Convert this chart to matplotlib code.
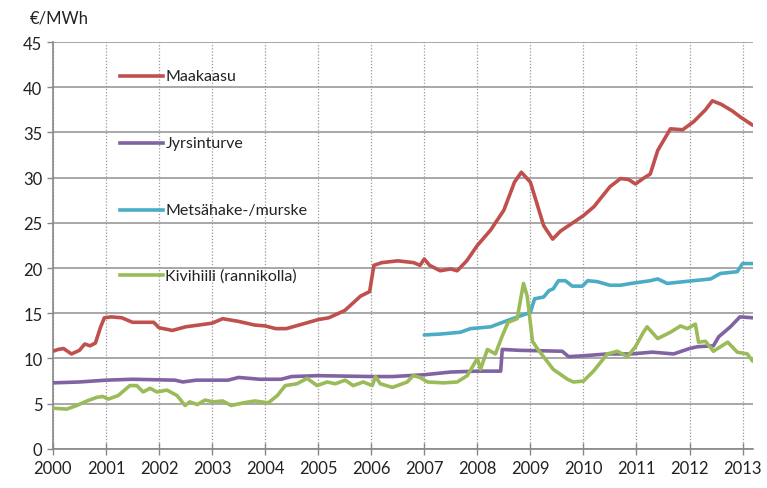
import matplotlib.pyplot as plt

plt.rcParams['font.family'] = ['Lato', 'DejaVu Sans']

# Maakaasu (natural gas)
gas_x = [2000.0, 2000.1, 2000.2, 2000.35, 2000.5, 2000.6, 2000.7, 2000.8, 2000.9, 2000.97,
         2001.1, 2001.3, 2001.5, 2001.7, 2001.9, 2002.0, 2002.25, 2002.5, 2002.75, 2003.0,
         2003.2, 2003.5, 2003.8, 2004.0, 2004.2, 2004.4, 2004.7, 2005.0, 2005.2, 2005.5,
         2005.8, 2005.97, 2006.05, 2006.2, 2006.5, 2006.8, 2006.92, 2007.0, 2007.1, 2007.3,
         2007.5, 2007.62, 2007.8, 2008.0, 2008.25, 2008.5, 2008.7, 2008.83, 2009.0, 2009.25,
         2009.42, 2009.57, 2009.8, 2010.0, 2010.2, 2010.5, 2010.7, 2010.85, 2010.98, 2011.15,
         2011.26, 2011.4, 2011.64, 2011.87, 2012.08, 2012.3, 2012.43, 2012.6, 2012.8, 2012.96,
         2013.19]
gas_y = [10.8, 11.0, 11.1, 10.5, 10.9, 11.6, 11.4, 11.7, 13.5, 14.5,
         14.6, 14.5, 14.0, 14.0, 14.0, 13.4, 13.1, 13.5, 13.7, 13.9,
         14.4, 14.1, 13.7, 13.6, 13.3, 13.3, 13.8, 14.3, 14.5, 15.3,
         16.9, 17.4, 20.3, 20.6, 20.8, 20.6, 20.3, 21.0, 20.3, 19.7,
         19.9, 19.7, 20.8, 22.5, 24.2, 26.4, 29.5, 30.6, 29.5, 24.7,
         23.2, 24.1, 25.0, 25.8, 26.8, 29.0, 29.9, 29.8, 29.3, 30.0,
         30.4, 33.0, 35.4, 35.3, 36.2, 37.5, 38.5, 38.1, 37.4, 36.7,
         35.8]

# Jyrsinturve (milled peat)
peat_x = [2000.0, 2000.5, 2001.0, 2001.5, 2002.3, 2002.45, 2002.7, 2003.3, 2003.5, 2003.9,
          2004.3, 2004.5, 2005.0, 2006.0, 2006.4, 2007.0, 2007.5, 2008.0, 2008.44, 2008.47,
          2008.8, 2009.6, 2009.72, 2010.0, 2010.45, 2010.9, 2011.3, 2011.7, 2012.0, 2012.15,
          2012.45, 2012.55, 2012.77, 2012.95, 2013.19]
peat_y = [7.3, 7.4, 7.6, 7.7, 7.6, 7.4, 7.6, 7.6, 7.9, 7.7,
          7.7, 8.0, 8.1, 8.0, 8.0, 8.2, 8.5, 8.6, 8.6, 11.0,
          10.9, 10.8, 10.2, 10.3, 10.5, 10.5, 10.7, 10.5, 11.1, 11.3,
          11.4, 12.4, 13.5, 14.6, 14.5]

# Metsähake-/murske (forest chips)
chips_x = [2007.0, 2007.3, 2007.68, 2007.87, 2008.25, 2008.57, 2009.0, 2009.08, 2009.25, 2009.35,
           2009.43, 2009.53, 2009.66, 2009.79, 2009.98, 2010.08, 2010.26, 2010.5, 2010.7, 2010.9,
           2011.26, 2011.4, 2011.58, 2011.9, 2012.4, 2012.58, 2012.9, 2013.0, 2013.19]
chips_y = [12.6, 12.7, 12.9, 13.3, 13.5, 14.2, 15.1, 16.6, 16.8, 17.5,
           17.7, 18.6, 18.6, 18.0, 18.0, 18.6, 18.5, 18.1, 18.1, 18.3,
           18.6, 18.8, 18.3, 18.5, 18.8, 19.4, 19.6, 20.5, 20.5]

# Kivihiili (rannikolla) (coal, coastal)
coal_x = [2000.0, 2000.26, 2000.45, 2000.64, 2000.83, 2000.94, 2001.04, 2001.23, 2001.45, 2001.58,
          2001.7, 2001.83, 2001.96, 2002.15, 2002.34, 2002.49, 2002.58, 2002.72, 2002.87, 2003.02,
          2003.2, 2003.36, 2003.6, 2003.8, 2004.06, 2004.23, 2004.38, 2004.6, 2004.79, 2004.98,
          2005.17, 2005.32, 2005.51, 2005.66, 2005.85, 2006.02, 2006.08, 2006.17, 2006.4, 2006.68,
          2006.79, 2006.92, 2007.06, 2007.36, 2007.62, 2007.81, 2008.0, 2008.06, 2008.19, 2008.34,
          2008.47, 2008.58, 2008.75, 2008.87, 2008.94, 2009.04, 2009.13, 2009.43, 2009.7, 2009.81,
          2010.0, 2010.19, 2010.45, 2010.64, 2010.83, 2010.98, 2011.13, 2011.2, 2011.4, 2011.64,
          2011.83, 2011.96, 2012.11, 2012.17, 2012.3, 2012.45, 2012.72, 2012.9, 2013.09, 2013.19]
coal_y = [4.5, 4.4, 4.8, 5.3, 5.7, 5.8, 5.5, 5.9, 7.0, 7.0,
          6.3, 6.7, 6.3, 6.5, 5.9, 4.8, 5.2, 4.9, 5.4, 5.2,
          5.3, 4.8, 5.1, 5.3, 5.1, 5.9, 7.0, 7.2, 7.8, 7.0,
          7.4, 7.2, 7.6, 7.0, 7.4, 7.0, 8.0, 7.2, 6.8, 7.4,
          8.1, 7.9, 7.4, 7.3, 7.4, 8.1, 10.0, 8.8, 11.0, 10.5,
          12.5, 14.0, 14.4, 18.3, 16.9, 11.9, 11.1, 8.8, 7.7, 7.4,
          7.5, 8.6, 10.5, 10.8, 10.2, 11.3, 12.9, 13.5, 12.2, 12.9,
          13.6, 13.3, 13.8, 11.8, 11.9, 10.8, 11.8, 10.7, 10.5, 9.7]

names = ['Maakaasu', 'Jyrsinturve', 'Metsähake-/murske', 'Kivihiili (rannikolla)']
colors = ['#C0504D', '#8064A2', '#4BACC6', '#9BBB59']
label_y = [41.2, 33.8, 26.4, 19.2]
series = [(gas_x, gas_y), (peat_x, peat_y), (chips_x, chips_y), (coal_x, coal_y)]

fig = plt.figure(figsize=(7.67, 4.89), dpi=100)
ax = fig.add_axes([0.069, 0.080, 0.913, 0.832])

for (xs, ys), c in zip(series, colors):
    ax.plot(xs, ys, color=c, linewidth=2.6, solid_capstyle='round', zorder=3)

# inline legend
for name, c, ly in zip(names, colors, label_y):
    ax.plot([2001.26, 2002.08], [ly, ly], color=c, linewidth=2.6, zorder=3)
    ax.text(2002.12, ly, name, fontsize=11.5, va='center', ha='left', color='#222222')

ax.set_xlim(2000, 2013.2)
ax.set_ylim(0, 45)
ax.set_xticks(range(2000, 2014))
ax.set_yticks(range(0, 46, 5))
ax.tick_params(axis='both', labelsize=12, colors='#222222', length=4, width=1)
ax.tick_params(axis='x', direction='inout', length=8, pad=4, color='#888888')
ax.tick_params(axis='y', color='#888888')
ax.grid(axis='y', color='#999999', linewidth=1.2, linestyle='-')
ax.grid(axis='x', color='#999999', linewidth=0.9, linestyle=(0, (1, 1.5)))
ax.set_axisbelow(True)
for s in ['top', 'right']:
    ax.spines[s].set_visible(False)
for s in ['left', 'bottom']:
    ax.spines[s].set_color('#888888')
    ax.spines[s].set_linewidth(1.2)

fig.text(30 / 767, 1 - 18 / 489, '€/MWh', fontsize=12, va='center', ha='left', color='#222222')

fig.savefig('out.png', dpi=100)
